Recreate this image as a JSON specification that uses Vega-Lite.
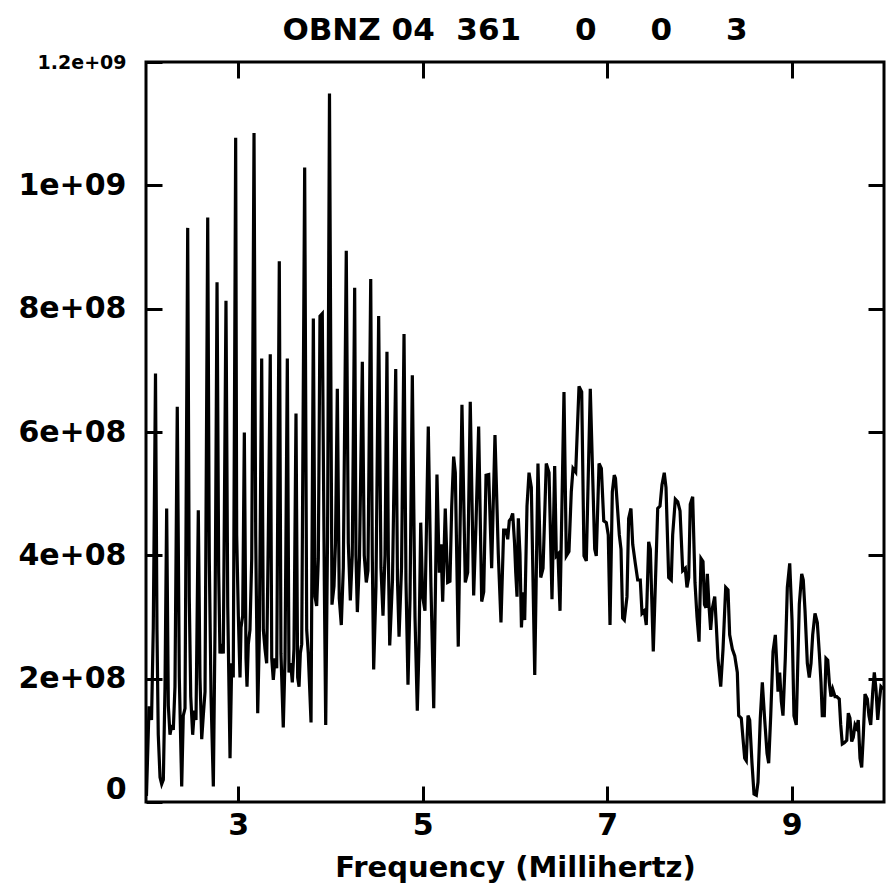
{
"$schema": "https://vega.github.io/schema/vega-lite/v6.json",
"width": 738, "height": 740,
"autosize": {"type": "none"},
"padding": {"left": 146, "top": 62, "right": 9, "bottom": 85},
"background": "white",
"config": {"view": {"stroke": "black", "strokeWidth": 3}, "font": "DejaVu Sans"},
"title": {"text": "OBNZ\u00a004\u00a0\u00a0361\u00a0\u00a0\u00a0\u00a0\u00a00\u00a0\u00a0\u00a0\u00a0\u00a00\u00a0\u00a0\u00a0\u00a0\u00a03", "font": "DejaVu Sans", "fontWeight": "bold", "fontSize": 31, "color": "black", "anchor": "middle", "offset": 6},
"data": {"values": [
{"freq":2.005,"power":0.1e8},{"freq":2.033,"power":1.55e8},{"freq":2.060,"power":1.33e8},{"freq":2.079,"power":2.83e8},{"freq":2.103,"power":6.95e8},{"freq":2.119,"power":2.79e8},{"freq":2.133,"power":1.09e8},{"freq":2.152,"power":0.4e8},{"freq":2.170,"power":0.29e8},{"freq":2.188,"power":0.36e8},
{"freq":2.206,"power":1.87e8},{"freq":2.224,"power":4.76e8},{"freq":2.242,"power":1.56e8},{"freq":2.260,"power":1.09e8},{"freq":2.279,"power":1.25e8},{"freq":2.296,"power":1.17e8},{"freq":2.314,"power":1.87e8},{"freq":2.339,"power":6.41e8},{"freq":2.361,"power":2.02e8},{"freq":2.387,"power":0.25e8},
{"freq":2.404,"power":1.4e8},{"freq":2.423,"power":1.52e8},{"freq":2.452,"power":9.31e8},{"freq":2.469,"power":3.33e8},{"freq":2.485,"power":1.71e8},{"freq":2.506,"power":1.09e8},{"freq":2.524,"power":1.48e8},{"freq":2.542,"power":1.33e8},{"freq":2.567,"power":4.73e8},{"freq":2.585,"power":2.02e8},
{"freq":2.604,"power":1.02e8},{"freq":2.621,"power":1.4e8},{"freq":2.640,"power":1.79e8},{"freq":2.669,"power":9.48e8},{"freq":2.686,"power":3.95e8},{"freq":2.705,"power":1.71e8},{"freq":2.730,"power":0.25e8},{"freq":2.748,"power":2.79e8},{"freq":2.770,"power":8.43e8},{"freq":2.788,"power":3.72e8},
{"freq":2.802,"power":2.41e8},{"freq":2.821,"power":2.56e8},{"freq":2.838,"power":2.41e8},{"freq":2.867,"power":8.13e8},{"freq":2.886,"power":3.18e8},{"freq":2.911,"power":0.71e8},{"freq":2.929,"power":2.25e8},{"freq":2.946,"power":2.02e8},{"freq":2.972,"power":10.77e8},{"freq":2.983,"power":4.33e8},
{"freq":3.001,"power":3.02e8},{"freq":3.019,"power":2.02e8},{"freq":3.030,"power":2.83e8},{"freq":3.048,"power":3.02e8},{"freq":3.066,"power":5.99e8},{"freq":3.084,"power":2.33e8},{"freq":3.095,"power":1.87e8},{"freq":3.109,"power":2.56e8},{"freq":3.127,"power":2.79e8},{"freq":3.146,"power":3.95e8},
{"freq":3.171,"power":10.85e8},{"freq":3.189,"power":4.33e8},{"freq":3.211,"power":1.44e8},{"freq":3.228,"power":2.64e8},{"freq":3.254,"power":7.19e8},{"freq":3.272,"power":2.79e8},{"freq":3.290,"power":2.48e8},{"freq":3.308,"power":2.25e8},{"freq":3.326,"power":4.33e8},{"freq":3.347,"power":7.26e8},
{"freq":3.363,"power":2.33e8},{"freq":3.380,"power":1.98e8},{"freq":3.398,"power":2.33e8},{"freq":3.417,"power":2.17e8},{"freq":3.445,"power":8.77e8},{"freq":3.463,"power":2.41e8},{"freq":3.488,"power":1.21e8},{"freq":3.507,"power":2.33e8},{"freq":3.532,"power":7.19e8},{"freq":3.550,"power":2.1e8},
{"freq":3.569,"power":2.25e8},{"freq":3.586,"power":1.94e8},{"freq":3.604,"power":2.48e8},{"freq":3.626,"power":6.3e8},{"freq":3.644,"power":2.02e8},{"freq":3.659,"power":1.87e8},{"freq":3.673,"power":2.41e8},{"freq":3.688,"power":2.56e8},{"freq":3.720,"power":10.29e8},{"freq":3.742,"power":2.79e8},
{"freq":3.759,"power":2.41e8},{"freq":3.789,"power":1.29e8},{"freq":3.814,"power":7.84e8},{"freq":3.832,"power":3.33e8},{"freq":3.850,"power":3.18e8},{"freq":3.868,"power":3.95e8},{"freq":3.886,"power":7.88e8},{"freq":3.911,"power":7.92e8},{"freq":3.933,"power":3.56e8},{"freq":3.948,"power":1.25e8},
{"freq":3.968,"power":4.3e8},{"freq":3.989,"power":11.49e8},{"freq":4.016,"power":3.2e8},{"freq":4.038,"power":3.5e8},{"freq":4.054,"power":4.2e8},{"freq":4.074,"power":6.7e8},{"freq":4.095,"power":3.3e8},{"freq":4.117,"power":2.87e8},{"freq":4.139,"power":3.8e8},{"freq":4.171,"power":8.94e8},
{"freq":4.193,"power":4.2e8},{"freq":4.215,"power":3.27e8},{"freq":4.236,"power":4.0e8},{"freq":4.262,"power":8.34e8},{"freq":4.276,"power":4.0e8},{"freq":4.291,"power":3.08e8},{"freq":4.314,"power":3.95e8},{"freq":4.345,"power":7.14e8},{"freq":4.366,"power":4.0e8},{"freq":4.388,"power":3.56e8},
{"freq":4.406,"power":3.75e8},{"freq":4.436,"power":8.48e8},{"freq":4.453,"power":4.0e8},{"freq":4.468,"power":2.15e8},{"freq":4.493,"power":3.5e8},{"freq":4.522,"power":7.88e8},{"freq":4.547,"power":3.8e8},{"freq":4.569,"power":3.02e8},{"freq":4.591,"power":4.0e8},{"freq":4.612,"power":7.3e8},
{"freq":4.627,"power":4.0e8},{"freq":4.642,"power":2.54e8},{"freq":4.672,"power":3.6e8},{"freq":4.707,"power":7.02e8},{"freq":4.726,"power":3.6e8},{"freq":4.743,"power":2.68e8},{"freq":4.770,"power":3.8e8},{"freq":4.797,"power":7.59e8},{"freq":4.818,"power":3.6e8},{"freq":4.840,"power":1.9e8},
{"freq":4.862,"power":3.3e8},{"freq":4.887,"power":6.92e8},{"freq":4.916,"power":3.0e8},{"freq":4.941,"power":1.48e8},{"freq":4.959,"power":2.5e8},{"freq":4.978,"power":4.53e8},{"freq":4.999,"power":3.33e8},{"freq":5.024,"power":3.1e8},{"freq":5.060,"power":6.09e8},{"freq":5.089,"power":3.5e8},
{"freq":5.119,"power":1.52e8},{"freq":5.138,"power":3.5e8},{"freq":5.154,"power":5.31e8},{"freq":5.179,"power":3.72e8},{"freq":5.198,"power":4.18e8},{"freq":5.216,"power":3.25e8},{"freq":5.244,"power":4.76e8},{"freq":5.270,"power":3.56e8},{"freq":5.295,"power":3.58e8},{"freq":5.314,"power":4.8e8},
{"freq":5.335,"power":5.6e8},{"freq":5.353,"power":5.34e8},{"freq":5.385,"power":2.52e8},{"freq":5.425,"power":6.44e8},{"freq":5.461,"power":3.56e8},{"freq":5.487,"power":3.72e8},{"freq":5.515,"power":6.49e8},{"freq":5.552,"power":3.35e8},{"freq":5.577,"power":4.5e8},{"freq":5.606,"power":6.09e8},
{"freq":5.639,"power":3.25e8},{"freq":5.661,"power":3.41e8},{"freq":5.686,"power":5.3e8},{"freq":5.715,"power":5.31e8},{"freq":5.747,"power":3.79e8},{"freq":5.783,"power":5.95e8},{"freq":5.819,"power":4.02e8},{"freq":5.848,"power":2.91e8},{"freq":5.877,"power":4.41e8},{"freq":5.902,"power":4.41e8},
{"freq":5.921,"power":4.26e8},{"freq":5.938,"power":4.56e8},{"freq":5.957,"power":4.6e8},{"freq":5.975,"power":4.68e8},{"freq":5.995,"power":4.2e8},{"freq":6.008,"power":3.72e8},{"freq":6.022,"power":3.33e8},{"freq":6.036,"power":4.6e8},{"freq":6.054,"power":4.02e8},{"freq":6.070,"power":2.83e8},
{"freq":6.087,"power":3.4e8},{"freq":6.105,"power":2.95e8},{"freq":6.130,"power":4.8e8},{"freq":6.152,"power":5.34e8},{"freq":6.177,"power":5.1e8},{"freq":6.214,"power":2.06e8},{"freq":6.249,"power":5.49e8},{"freq":6.279,"power":3.64e8},{"freq":6.304,"power":3.79e8},{"freq":6.339,"power":5.49e8},
{"freq":6.369,"power":5.34e8},{"freq":6.401,"power":3.29e8},{"freq":6.430,"power":5.45e8},{"freq":6.448,"power":3.99e8},{"freq":6.466,"power":4.02e8},{"freq":6.488,"power":3.1e8},{"freq":6.531,"power":6.65e8},{"freq":6.556,"power":3.99e8},{"freq":6.585,"power":4.06e8},{"freq":6.610,"power":5.03e8},
{"freq":6.629,"power":5.41e8},{"freq":6.658,"power":5.35e8},{"freq":6.694,"power":6.74e8},{"freq":6.723,"power":6.65e8},{"freq":6.748,"power":3.99e8},{"freq":6.773,"power":3.91e8},{"freq":6.816,"power":6.7e8},{"freq":6.864,"power":4.1e8},{"freq":6.881,"power":3.99e8},{"freq":6.911,"power":5.49e8},
{"freq":6.936,"power":5.41e8},{"freq":6.962,"power":4.56e8},{"freq":6.990,"power":4.53e8},{"freq":7.011,"power":4.33e8},{"freq":7.030,"power":2.87e8},{"freq":7.055,"power":5.03e8},{"freq":7.076,"power":5.3e8},{"freq":7.089,"power":5.25e8},{"freq":7.131,"power":4.33e8},{"freq":7.149,"power":4.1e8},
{"freq":7.167,"power":2.98e8},{"freq":7.185,"power":2.95e8},{"freq":7.214,"power":3.33e8},{"freq":7.232,"power":4.6e8},{"freq":7.257,"power":4.76e8},{"freq":7.276,"power":4.18e8},{"freq":7.304,"power":3.87e8},{"freq":7.330,"power":3.6e8},{"freq":7.358,"power":3.6e8},{"freq":7.377,"power":3.06e8},
{"freq":7.402,"power":3.1e8},{"freq":7.423,"power":2.87e8},{"freq":7.449,"power":4.22e8},{"freq":7.467,"power":4.1e8},{"freq":7.499,"power":2.44e8},{"freq":7.547,"power":4.76e8},{"freq":7.572,"power":4.8e8},{"freq":7.593,"power":5.14e8},{"freq":7.618,"power":5.34e8},{"freq":7.637,"power":5.1e8},
{"freq":7.666,"power":3.64e8},{"freq":7.694,"power":3.6e8},{"freq":7.709,"power":4.33e8},{"freq":7.738,"power":4.91e8},{"freq":7.764,"power":4.87e8},{"freq":7.789,"power":4.72e8},{"freq":7.818,"power":3.75e8},{"freq":7.846,"power":3.79e8},{"freq":7.864,"power":3.48e8},{"freq":7.883,"power":3.64e8},
{"freq":7.900,"power":4.83e8},{"freq":7.926,"power":4.95e8},{"freq":7.951,"power":3.56e8},{"freq":7.973,"power":3.0e8},{"freq":7.995,"power":2.6e8},{"freq":8.016,"power":3.95e8},{"freq":8.038,"power":3.9e8},{"freq":8.054,"power":3.2e8},{"freq":8.070,"power":3.15e8},{"freq":8.085,"power":3.7e8},
{"freq":8.103,"power":3.18e8},{"freq":8.121,"power":2.79e8},{"freq":8.139,"power":3.14e8},{"freq":8.165,"power":3.33e8},{"freq":8.182,"power":2.87e8},{"freq":8.200,"power":2.33e8},{"freq":8.230,"power":1.87e8},{"freq":8.255,"power":2.48e8},{"freq":8.284,"power":3.48e8},{"freq":8.309,"power":3.44e8},
{"freq":8.327,"power":2.71e8},{"freq":8.356,"power":2.48e8},{"freq":8.382,"power":2.37e8},{"freq":8.410,"power":2.1e8},{"freq":8.425,"power":1.4e8},{"freq":8.453,"power":1.36e8},{"freq":8.472,"power":1.02e8},{"freq":8.490,"power":0.71e8},{"freq":8.507,"power":0.67e8},{"freq":8.526,"power":1.4e8},
{"freq":8.544,"power":1.33e8},{"freq":8.569,"power":0.63e8},{"freq":8.591,"power":0.13e8},{"freq":8.616,"power":0.11e8},{"freq":8.634,"power":0.32e8},{"freq":8.659,"power":1.36e8},{"freq":8.681,"power":1.94e8},{"freq":8.707,"power":1.33e8},{"freq":8.732,"power":0.79e8},{"freq":8.750,"power":0.63e8},
{"freq":8.772,"power":1.4e8},{"freq":8.797,"power":2.44e8},{"freq":8.822,"power":2.71e8},{"freq":8.840,"power":2.17e8},{"freq":8.851,"power":1.79e8},{"freq":8.869,"power":2.1e8},{"freq":8.887,"power":1.63e8},{"freq":8.905,"power":1.4e8},{"freq":8.930,"power":2.33e8},{"freq":8.952,"power":3.48e8},
{"freq":8.978,"power":3.87e8},{"freq":9.003,"power":2.95e8},{"freq":9.024,"power":1.4e8},{"freq":9.049,"power":1.25e8},{"freq":9.068,"power":2.4e8},{"freq":9.082,"power":3.21e8},{"freq":9.108,"power":3.7e8},{"freq":9.125,"power":3.6e8},{"freq":9.144,"power":3.1e8},{"freq":9.169,"power":2.25e8},
{"freq":9.190,"power":2.02e8},{"freq":9.209,"power":2.25e8},{"freq":9.227,"power":2.71e8},{"freq":9.252,"power":3.06e8},{"freq":9.277,"power":2.91e8},{"freq":9.299,"power":2.41e8},{"freq":9.317,"power":1.94e8},{"freq":9.331,"power":1.4e8},{"freq":9.353,"power":1.4e8},{"freq":9.371,"power":2.33e8},
{"freq":9.390,"power":2.3e8},{"freq":9.407,"power":1.94e8},{"freq":9.425,"power":1.71e8},{"freq":9.444,"power":1.83e8},{"freq":9.469,"power":1.71e8},{"freq":9.487,"power":1.71e8},{"freq":9.515,"power":1.67e8},{"freq":9.531,"power":1.25e8},{"freq":9.548,"power":0.94e8},{"freq":9.570,"power":0.96e8},
{"freq":9.596,"power":1.0e8},{"freq":9.613,"power":1.44e8},{"freq":9.631,"power":1.36e8},{"freq":9.650,"power":0.98e8},{"freq":9.667,"power":1.05e8},{"freq":9.686,"power":1.25e8},{"freq":9.704,"power":1.2e8},{"freq":9.721,"power":1.33e8},{"freq":9.740,"power":0.71e8},{"freq":9.758,"power":0.56e8},
{"freq":9.776,"power":1.09e8},{"freq":9.794,"power":1.75e8},{"freq":9.819,"power":1.67e8},{"freq":9.837,"power":1.4e8},{"freq":9.856,"power":1.25e8},{"freq":9.878,"power":1.79e8},{"freq":9.895,"power":2.1e8},{"freq":9.913,"power":1.83e8},{"freq":9.932,"power":1.33e8},{"freq":9.949,"power":1.63e8},
{"freq":9.967,"power":1.87e8},{"freq":9.992,"power":1.83e8}
]},
"layer": [
{"mark": {"type": "line", "color": "black", "strokeWidth": 3.2, "clip": true},
 "encoding": {
  "x": {"field": "freq", "type": "quantitative", "scale": {"domain": [2, 10], "nice": false, "zero": false},
   "axis": {"orient": "bottom", "values": [3, 5, 7, 9], "tickSize": -16, "tickWidth": 3, "tickColor": "black", "domain": false, "grid": false,
    "labelFont": "DejaVu Sans", "labelFontWeight": "bold", "labelFontSize": 30, "labelColor": "black", "labelPadding": 24, "labelFlush": false,
    "title": "Frequency (Millihertz)", "titleFont": "DejaVu Sans", "titleFontWeight": "bold", "titleFontSize": 29, "titleColor": "black", "titlePadding": 13}},
  "y": {"field": "power", "type": "quantitative", "scale": {"domain": [0, 1200000000], "nice": false},
   "axis": {"orient": "left", "values": [0, 200000000, 400000000, 600000000, 800000000, 1000000000, 1200000000], "tickSize": -16, "tickWidth": 3, "tickColor": "black", "domain": false, "grid": false,
    "labelExpr": "datum.value == 0 ? '0' : datum.value == 1000000000 ? '1e+09' : datum.value == 1200000000 ? '1.2e+09' : (datum.value / 100000000) + 'e+08'",
    "labelFont": "DejaVu Sans", "labelFontWeight": "bold", "labelColor": "black",
    "labelFontSize": {"condition": {"test": "datum.value == 1200000000", "value": 19}, "value": 30},
    "labelOffset": {"condition": {"test": "datum.value == 0", "value": -13}, "value": 0},
    "labelPadding": 36, "labelFlush": false, "labelOverlap": false, "labelBound": false, "title": null}}
 }},
{"mark": {"type": "line", "opacity": 0},
 "encoding": {
  "x": {"field": "freq", "type": "quantitative", "scale": {"domain": [2, 10], "nice": false, "zero": false},
   "axis": {"orient": "top", "values": [3, 5, 7, 9], "tickSize": -16, "tickWidth": 3, "tickColor": "black", "domain": false, "grid": false, "labels": false, "title": null}},
  "y": {"field": "power", "type": "quantitative", "scale": {"domain": [0, 1200000000], "nice": false},
   "axis": {"orient": "right", "values": [200000000, 400000000, 600000000, 800000000, 1000000000], "tickSize": -16, "tickWidth": 3, "tickColor": "black", "domain": false, "grid": false, "labels": false, "title": null}}
 }}
],
"resolve": {"axis": {"x": "independent", "y": "independent"}}
}
